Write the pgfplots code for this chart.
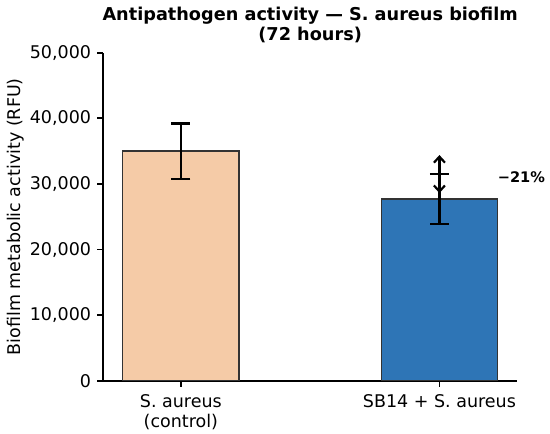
\documentclass[border=0pt]{standalone}
\usepackage{fontspec}
\setmainfont{DejaVu Sans}
\usepackage{pgfplots}
\pgfplotsset{compat=1.18}
\usetikzlibrary{arrows.meta}
\definecolor{peach}{HTML}{F5CBA7}
\definecolor{bblue}{HTML}{2E75B6}
\definecolor{edgec}{HTML}{333333}
\begin{document}
\begin{tikzpicture}
\begin{axis}[
  scale only axis,
  width=414pt, height=328.3pt,
  xmin=-0.3, xmax=1.3,
  ymin=0, ymax=50000,
  scaled y ticks=false,
  axis lines=left,
  axis line style={-, line width=1.8pt, black},
  tick align=outside,
  major tick length=6pt,
  every tick/.style={line width=1.8pt, black},
  xtick={0,1},
  xticklabels={{S. aureus\\(control)},{SB14 + S. aureus}},
  xticklabel style={align=center, font=\fontsize{17.5}{20}\selectfont, inner sep=0pt, yshift=-8pt},
  ytick={0,10000,20000,30000,40000,50000},
  yticklabels={0,{10,000},{20,000},{30,000},{40,000},{50,000}},
  yticklabel style={font=\fontsize{17.5}{20}\selectfont, inner sep=0pt, xshift=-6pt},
  ybar, bar width=0.45, bar shift=0pt,
  clip=false,
]
\addplot+[ybar, fill=peach, draw=edgec, line width=1.3pt,
  error bars/.cd, y dir=both, y explicit,
  error bar style={line width=2.2pt, black},
  error mark options={rotate=90, mark size=9.5pt, line width=2.2pt, black}]
  coordinates {(0,35000) +- (0,4200)};
\addplot+[ybar, fill=bblue, draw=edgec, line width=1.3pt,
  error bars/.cd, y dir=both, y explicit,
  error bar style={line width=2.2pt, black},
  error mark options={rotate=90, mark size=9.5pt, line width=2.2pt, black}]
  coordinates {(1,27700) +- (0,3800)};
\addplot[sharp plot, no marks, black, line width=2.2pt,
  {Straight Barb[length=6pt,width=11pt,line width=2.2pt]}-{Straight Barb[length=6pt,width=11pt,line width=2.2pt]}]
  coordinates {(1,34400) (1,28600)};
\node[anchor=base west, inner sep=0pt, font=\fontsize{14.6}{17}\selectfont\bfseries] at (axis cs:1.225,30180) {−21\%};
\end{axis}
\node[rotate=90, anchor=base, inner sep=0pt, font=\fontsize{17.5}{20}\selectfont] at ([xshift=-82.8pt]current axis.west) {Biofilm metabolic activity (RFU)};
\node[anchor=base, inner sep=0pt, font=\fontsize{17.7}{20}\selectfont\bfseries] at ([yshift=31.7pt]current axis.north) {Antipathogen activity — S. aureus biofilm};
\node[anchor=base, inner sep=0pt, font=\fontsize{17.7}{20}\selectfont\bfseries] at ([yshift=11.7pt]current axis.north) {(72 hours)};
\pgfresetboundingbox
\path ([shift={(-103.3pt,-53pt)}]current axis.south west) rectangle ([shift={(33pt,52.7pt)}]current axis.north east);
\end{tikzpicture}
\end{document}
